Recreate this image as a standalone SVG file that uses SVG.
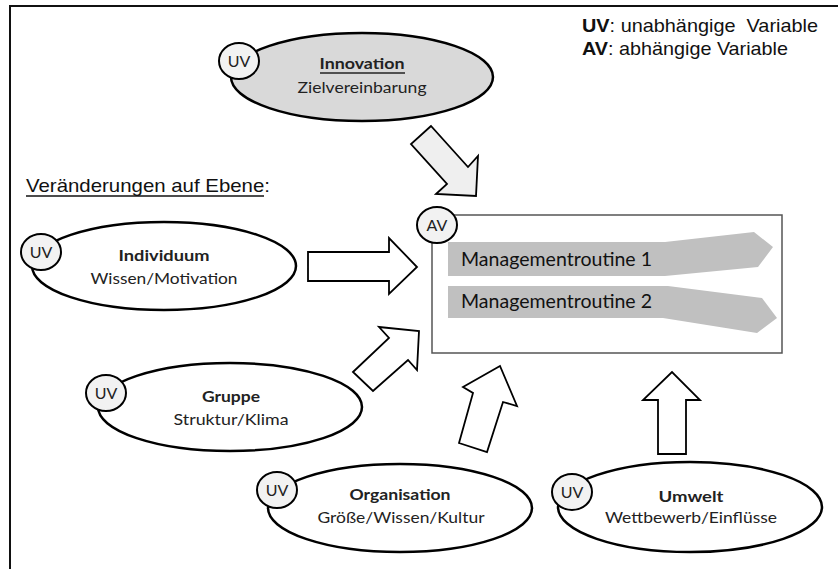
<svg xmlns="http://www.w3.org/2000/svg" width="838" height="569" viewBox="0 0 838 569">
<style>
.ell{stroke:#000;stroke-width:2.5;fill:#fff}
.badge{stroke:#000;stroke-width:2;fill:#f2f2f2}
.bt{font-family:Lato,"Open Sans",sans-serif;font-size:16px;fill:#222;text-anchor:middle}
.b{font-weight:bold}
.arr{fill:#fff;stroke:#000;stroke-width:1.8;stroke-linejoin:miter}
.leg{font-family:"Liberation Sans",Arial,sans-serif;font-size:19px;fill:#111}
.mr{font-family:Lato,"Open Sans",sans-serif;font-size:19px;fill:#111}
</style>
<rect x="0" y="0" width="838" height="569" fill="#fff"/>
<rect x="10" y="6" width="840" height="580" fill="none" stroke="#111" stroke-width="2"/>

<g id="legend">
<text class="leg" x="582" y="32" textLength="236" lengthAdjust="spacingAndGlyphs" xml:space="preserve"><tspan font-weight="bold">UV</tspan>: unabhängige  Variable</text>
<text class="leg" x="582" y="55" textLength="206" lengthAdjust="spacingAndGlyphs"><tspan font-weight="bold">AV</tspan>: abhängige Variable</text>
</g>

<g id="heading">
<text class="leg" x="26" y="192" font-size="20" textLength="244" lengthAdjust="spacingAndGlyphs">Veränderungen auf Ebene:</text>
<line x1="26" y1="196" x2="264" y2="196" stroke="#111" stroke-width="1.5"/>
</g>

<g id="innovation">
<ellipse class="ell" cx="362" cy="77" rx="131" ry="44" style="fill:#d9d9d9"/>
<ellipse class="badge" cx="239" cy="61" rx="20" ry="18"/>
<text class="bt" x="239" y="67">UV</text>
<text class="bt b" x="362" y="69" textLength="85" lengthAdjust="spacingAndGlyphs">Innovation</text>
<line x1="320" y1="73" x2="405" y2="73" stroke="#222" stroke-width="1.5"/>
<text class="bt" x="362" y="93" textLength="129" lengthAdjust="spacingAndGlyphs">Zielvereinbarung</text>
</g>

<g id="individuum">
<ellipse class="ell" cx="164" cy="266" rx="132" ry="44"/>
<ellipse class="badge" cx="41" cy="252" rx="20" ry="18"/>
<text class="bt" x="41" y="258">UV</text>
<text class="bt b" x="164" y="261" textLength="91" lengthAdjust="spacingAndGlyphs">Individuum</text>
<text class="bt" x="164" y="284" textLength="147" lengthAdjust="spacingAndGlyphs">Wissen/Motivation</text>
</g>

<g id="gruppe">
<ellipse class="ell" cx="230" cy="407" rx="132" ry="44"/>
<ellipse class="badge" cx="106" cy="393" rx="20" ry="18"/>
<text class="bt" x="106" y="399">UV</text>
<text class="bt b" x="231" y="402" textLength="58" lengthAdjust="spacingAndGlyphs">Gruppe</text>
<text class="bt" x="231" y="425" textLength="115" lengthAdjust="spacingAndGlyphs">Struktur/Klima</text>
</g>

<g id="organisation">
<ellipse class="ell" cx="400" cy="508" rx="132" ry="44"/>
<ellipse class="badge" cx="277" cy="490" rx="20" ry="18"/>
<text class="bt" x="277" y="496">UV</text>
<text class="bt b" x="400" y="500" textLength="101" lengthAdjust="spacingAndGlyphs">Organisation</text>
<text class="bt" x="401" y="523" textLength="167" lengthAdjust="spacingAndGlyphs">Größe/Wissen/Kultur</text>
</g>

<g id="umwelt">
<ellipse class="ell" cx="690" cy="507" rx="132" ry="45"/>
<ellipse class="badge" cx="572" cy="492" rx="20" ry="18"/>
<text class="bt" x="572" y="498">UV</text>
<text class="bt b" x="691" y="502" textLength="65" lengthAdjust="spacingAndGlyphs">Umwelt</text>
<text class="bt" x="691" y="523" textLength="172" lengthAdjust="spacingAndGlyphs">Wettbewerb/Einflüsse</text>
</g>

<g id="managementroutinen">
<rect x="432" y="215" width="350" height="138" fill="#fff" stroke="#555" stroke-width="1.5"/>
<polygon points="448,242 665,242 754,232 773,247 758,267 665,276 448,276" fill="#c0c0c0"/>
<polygon points="448,286 668,286 762,298 777,318 757,333 663,318 448,318" fill="#c0c0c0"/>
<text class="mr" x="461" y="266" textLength="191" lengthAdjust="spacingAndGlyphs">Managementroutine 1</text>
<text class="mr" x="461" y="308" textLength="191" lengthAdjust="spacingAndGlyphs">Managementroutine 2</text>
<ellipse class="badge" cx="437" cy="225" rx="20" ry="18"/>
<text class="bt" x="437" y="231">AV</text>
</g>

<g id="connectors">
<polygon class="arr" style="fill:#efefef" points="431,126 411,144 447,184 436,194 476,196 478,156 468,167"/>
<polygon class="arr" points="308,252 389,252 389,238 417,267 389,294 389,281 308,281"/>
<polygon class="arr" points="353,372 389,338 379,327 419,331 417,370 408,360 373,391"/>
<polygon class="arr" points="459,443 473,393 463,387 500,366 517,406 503,402 487,452"/>
<polygon class="arr" points="658,454 658,400 643,400 672,372 700,400 686,400 686,454"/>
</g>
</svg>
